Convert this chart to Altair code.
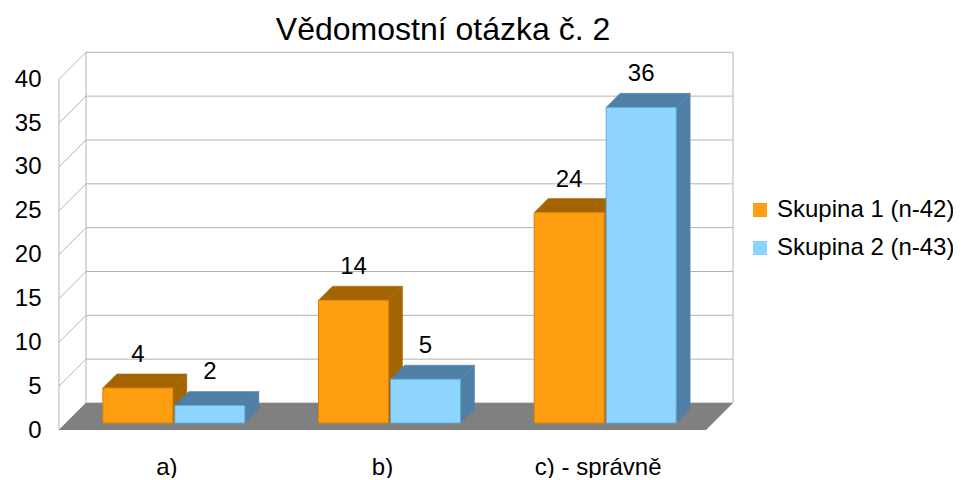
import altair as alt
import pandas as pd

# ---- data ----
categories = ["a)", "b)", "c) - správně"]
series = ["Skupina 1 (n-42)", "Skupina 2 (n-43)"]
skupina1 = [4, 14, 24]
skupina2 = [2, 5, 36]
y_ticks = [0, 5, 10, 15, 20, 25, 30, 35, 40]
title_text = "Vědomostní otázka č. 2"

# ---- styles ----
front_colors = ["#ff9e10", "#8dd5ff"]
edge_colors = ["#d98300", "#62a9d6"]
shade_colors = ["#a46400", "#4f7fa5"]
FONT = "Liberation Sans"
FS = 24

# ---- layout (pixels) ----
W, H = 674, 377
PPU = 8.7675            # pixels per value unit
YMAX = H / PPU
WALL_DEPTH = 27
BAR_INSET = 7
BAR_DEPTH = 14
BAR_W = 70
BAR_GAP = 1
FLOOR_W = W - WALL_DEPTH
CAT_W = FLOOR_W / len(categories)


def v(px):
    return px / PPU


xscale = alt.Scale(domain=[0, W], nice=False, zero=False)
yscale = alt.Scale(domain=[0, YMAX], nice=False, zero=False)
yaxis = alt.Axis(values=y_ticks, labelFontSize=FS, labelFont=FONT, labelColor="black",
                 labelPadding=18, ticks=False, domain=False, grid=False, title=None)


def X(f):
    return alt.X(f, type="quantitative", scale=xscale, axis=None)


def Y(f):
    return alt.Y(f, type="quantitative", scale=yscale, axis=yaxis)


# ---- walls / grid ----
dw = v(WALL_DEPTH)
grid_rows = []
for t in y_ticks:
    grid_rows.append(dict(x=WALL_DEPTH, x2=W, y=t + dw, y2=t + dw))   # back wall
    grid_rows.append(dict(x=0, x2=WALL_DEPTH, y=t, y2=t + dw))        # side wall
top = y_ticks[-1]
grid_rows.append(dict(x=0, x2=0, y=0, y2=top))
grid_rows.append(dict(x=WALL_DEPTH, x2=WALL_DEPTH, y=dw, y2=top + dw))
grid_rows.append(dict(x=W, x2=W, y=dw, y2=top + dw))
grid_df = pd.DataFrame(grid_rows)

grid = alt.Chart(grid_df).mark_rule(color="#b3b3b3", strokeWidth=1).encode(
    x=X("x"), x2="x2", y=Y("y"), y2="y2")

floor_df = pd.DataFrame(dict(y=[0, dw], xa=[0, WALL_DEPTH], xb=[FLOOR_W, W]))
floor = alt.Chart(floor_df).mark_area(orient="horizontal", color="#808080").encode(
    y=Y("y"), x=X("xa"), x2="xb")

# ---- bars ----
fronts, tops, sides = [], [], []
for si, vals in enumerate([skupina1, skupina2]):
    for ci, val in enumerate(vals):
        c = (ci + 0.5) * CAT_W + BAR_INSET
        x0 = c - BAR_GAP - BAR_W if si == 0 else c + BAR_GAP
        x1 = x0 + BAR_W
        yb = v(BAR_INSET)
        yt = yb + val
        d = v(BAR_DEPTH)
        bid = f"{si}-{ci}"
        fronts.append(dict(series=series[si], x0=x0, x1=x1, yb=yb, yt=yt,
                           cx=(x0 + x1) / 2, label=str(val)))
        tops.append(dict(series=series[si], id=bid, y=yt, xa=x0, xb=x1))
        tops.append(dict(series=series[si], id=bid, y=yt + d, xa=x0 + BAR_DEPTH, xb=x1 + BAR_DEPTH))
        sides.append(dict(series=series[si], id=bid, x=x1, ya=yb, yb=yt))
        sides.append(dict(series=series[si], id=bid, x=x1 + BAR_DEPTH, ya=yb + d, yb=yt + d))

front_df = pd.DataFrame(fronts)
top_df = pd.DataFrame(tops)
side_df = pd.DataFrame(sides)

color_enc = alt.Color("series:N", scale=alt.Scale(domain=series, range=front_colors),
                      legend=alt.Legend(orient="none", legendX=689, legendY=145, title=None,
                                        labelFontSize=FS, labelFont=FONT, labelColor="black",
                                        labelLimit=400,
                                        symbolType="square", symbolSize=196, symbolStrokeWidth=0,
                                        labelOffset=5, rowPadding=14, padding=0))

bar_layers = []
for si, s in enumerate(series):
    side = alt.Chart(side_df).transform_filter(alt.datum.series == s).mark_area(
        orient="vertical", color=shade_colors[si], stroke=shade_colors[si], strokeWidth=0.5
    ).encode(x=X("x"), y=Y("ya"), y2="yb", detail="id:N")
    topf = alt.Chart(top_df).transform_filter(alt.datum.series == s).mark_area(
        orient="horizontal", color=shade_colors[si], stroke=shade_colors[si], strokeWidth=0.5
    ).encode(y=Y("y"), x=X("xa"), x2="xb", detail="id:N")
    front = alt.Chart(front_df).transform_filter(alt.datum.series == s).mark_rect(
        stroke=edge_colors[si], strokeWidth=1
    ).encode(x=X("x0"), x2="x1", y=Y("yb"), y2="yt", color=color_enc)
    bar_layers += [side, topf, front]

labels = alt.Chart(front_df).mark_text(fontSize=FS, font=FONT, color="black", dy=-33).encode(
    x=X("cx"), y=Y("yt"), text="label:N")

cat_df = pd.DataFrame(dict(cat=categories, x=[(i + 0.5) * CAT_W for i in range(len(categories))],
                           y=[0] * len(categories)))
cat_labels = alt.Chart(cat_df).mark_text(fontSize=FS, font=FONT, color="black", dy=37.5).encode(
    x=X("x"), y=Y("y"), text="cat:N")

chart = alt.layer(grid, floor, *bar_layers, labels, cat_labels).properties(
    width=W, height=H,
    title=alt.TitleParams(text=title_text, fontSize=32, font=FONT, fontWeight="normal",
                          color="black", anchor="middle", dx=47, offset=-20, baseline="alphabetic"),
    autosize=alt.AutoSizeParams(type="none"),
    padding={"left": 51, "top": 45, "right": 220, "bottom": 48},
    background="white",
).configure_view(stroke=None)

chart.save("out.html", embed_options={"renderer": "svg", "actions": False})
